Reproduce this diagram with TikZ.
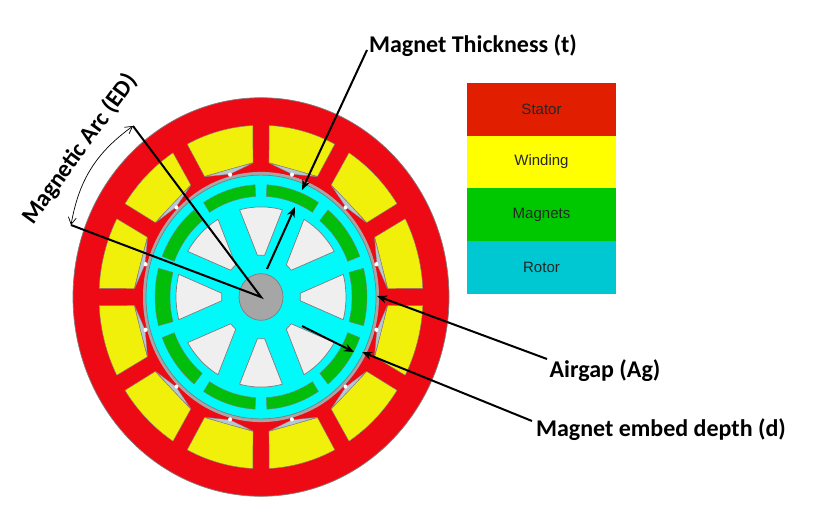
\documentclass[tikz,border=0pt]{standalone}
\usepackage{fontspec}
\setmainfont{Carlito}
\newfontfamily\keyfont{Liberation Sans}
\usetikzlibrary{arrows.meta}
\definecolor{statorred}{HTML}{EE0A14}
\definecolor{coilyellow}{HTML}{F0F00A}
\definecolor{rotorcyan}{HTML}{00FAFA}
\definecolor{magnetgreen}{HTML}{00BE0A}
\definecolor{holegrey}{HTML}{EFEFEF}
\definecolor{edgegrey}{HTML}{7D7D7D}
\definecolor{wedgegrey}{HTML}{B4C8D2}
\definecolor{keyred}{HTML}{E11E00}
\definecolor{keyyellow}{HTML}{FFFF00}
\definecolor{keygreen}{HTML}{00C800}
\definecolor{keycyan}{HTML}{00C8D2}
\tikzset{
  part/.style={draw=edgegrey,line width=0.7pt,line join=round},
  keybox/.style={minimum width=149pt,minimum height=52.7pt,inner sep=0pt,text=black!85,font=\keyfont\fontsize{15}{16}\selectfont},
  callout/.style={font=\bfseries\fontsize{24}{26}\selectfont,inner sep=0pt},
  pointer/.style={line width=2pt,-{Stealth[length=10pt,width=8pt]}},
  radius line/.style={line width=2pt}
}
\begin{document}
\begin{tikzpicture}[x=1pt,y=-1pt]
\useasboundingbox (0,0) rectangle (817,506);

\begin{scope}[shift={(261,297)},yscale=-1.06]
\draw[part,fill=statorred] (0,0) circle [radius=188];
\foreach \ang in {15,45,...,345} {
  \draw[part,line width=0.4pt,fill=coilyellow] (\ang-11.4:127) -- (\ang-12.1:162)
    arc [start angle=\ang-12.1,end angle=\ang+12.1,radius=162] -- (\ang+11.4:127) -- cycle;
  \draw[draw=edgegrey,line width=0.3pt,fill=wedgegrey] (\ang-11.2:126.5) -- (\ang:120) -- (\ang+11.2:126.5) -- (\ang:124.5) -- cycle;
}
\draw[draw=none,fill=black!35] (0,0) circle [radius=118];
\foreach \ang in {15,45,...,345} {
  \fill[white] (\ang:119.5) circle [radius=2];
}
\draw[part,fill=rotorcyan] (0,0) circle [radius=115];
% magnets
\foreach \ang/\rin in {72/95,36/93,0/91,-36/93,-72/95,-108/95,-144/93,180/91,144/93,108/95} {
  \draw[part,line width=0.4pt,fill=magnetgreen] (\ang-14.8:\rin)
    arc [start angle=\ang-14.8,end angle=\ang+14.8,radius=\rin] -- (\ang+14.8:106)
    arc [start angle=\ang+14.8,end angle=\ang-14.8,radius=106] -- cycle;
}
% holes between the spokes
\foreach \ang in {90,45,...,-225} {
  \draw[part,fill=holegrey] (\ang-5.2:39.5) -- (\ang+5.2:39.5) -- (\ang+14.6:85)
    arc [start angle=\ang+14.6,end angle=\ang-14.6,radius=85] -- cycle;
}
\draw[part,fill=black!35] (0,0) circle [radius=22];
\coordinate (hub) at (0,0);
\end{scope}

\node[keybox,fill=keyred] (stator-key) at (541.5,109.5) {Stator};
\node[keybox,fill=keyyellow] (winding-key) at (541.5,162) {Winding};
\node[keybox,fill=keygreen] (magnets-key) at (541.5,214.5) {Magnets};
\node[keybox,fill=keycyan] (rotor-key) at (541.5,267.5) {Rotor};

\node[callout] (thick-label) at (473,46) {Magnet Thickness (t)};
\node[callout] (gap-label) at (605,371) {Airgap (Ag)};
\node[callout] (depth-label) at (661,430) {Magnet embed depth (d)};
\node[callout,rotate=54] (arc-label) at (80,149) {Magnetic Arc (ED)};

\coordinate (arc-top) at (133,126);
\coordinate (arc-low) at (71,225);
\coordinate (thick-tip) at (302,190);
\coordinate (thick-in) at (267,269);
\coordinate (thick-out) at (295,207);
\coordinate (thick-start) at (367,50);
\coordinate (gap-start) at (547,359);
\coordinate (gap-tip) at (377,296);
\coordinate (depth-start) at (532,421);
\coordinate (depth-tip) at (362,352);
\coordinate (embed-in) at (302,326);
\coordinate (embed-tip) at (354,352);

\draw[radius line] (arc-top) -- (hub) -- (arc-low);
\draw[line width=0.7pt,{Straight Barb[length=7pt,width=8pt]}-{Straight Barb[length=7pt,width=8pt]}] (arc-top) to [bend right=22] (arc-low);
\draw[pointer] (thick-start) -- (thick-tip);
\draw[pointer] (thick-in) -- (thick-out);
\draw[pointer] (gap-start) -- (gap-tip);
\draw[pointer] (depth-start) -- (depth-tip);
\draw[pointer] (embed-in) -- (embed-tip);
\end{tikzpicture}
\end{document}
